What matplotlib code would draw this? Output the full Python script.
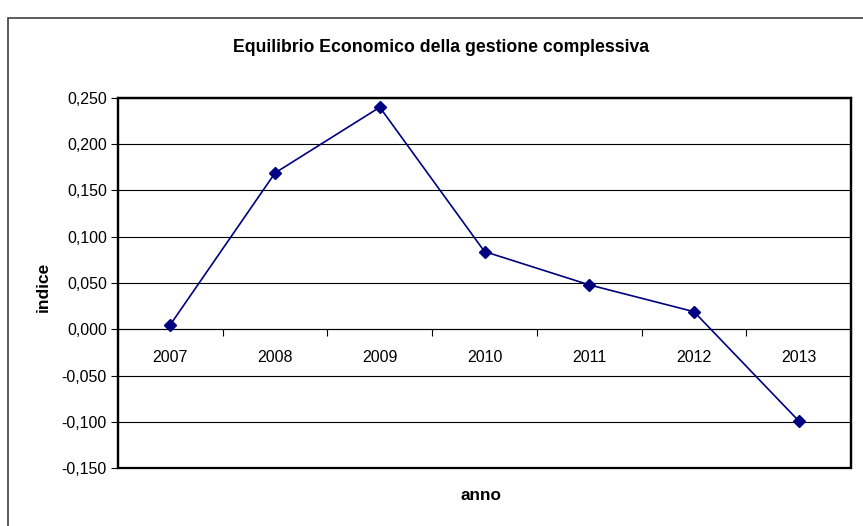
import matplotlib.pyplot as plt
from matplotlib.patches import Rectangle
from matplotlib.ticker import FuncFormatter, MultipleLocator
import numpy as np

plt.rcParams['font.family'] = ['Liberation Sans', 'DejaVu Sans']

anni = ['2007', '2008', '2009', '2010', '2011', '2012', '2013']
indice = [0.005, 0.169, 0.240, 0.084, 0.048, 0.019, -0.099]

W, H = 863, 526
fig = plt.figure(figsize=(W / 100, H / 100), dpi=100)

# outer chart border (cropped on the right/bottom)
fig.patches.append(Rectangle((8 / W, -0.05), 1.2, 1 - 18 / H + 0.05,
                             transform=fig.transFigure, fill=False,
                             edgecolor='#404040', linewidth=1.2))

ax = fig.add_axes([118 / W, 58 / H, 733 / W, 370 / H])
x = np.arange(len(anni))
ax.plot(x, indice, color='#000080', linewidth=1.2, marker='D',
        markersize=6, markerfacecolor='#000080', markeredgecolor='#000080',
        zorder=5, clip_on=False)

ax.set_xlim(-0.5, len(anni) - 0.5)
ax.set_ylim(-0.15, 0.25)

ax.yaxis.set_major_locator(MultipleLocator(0.05))
ax.yaxis.set_major_formatter(FuncFormatter(lambda v, p: f'{v:.3f}'.replace('.', ',').replace('-0,000', '0,000')))
ax.grid(axis='y', color='black', linewidth=0.8)
ax.set_axisbelow(True)
ax.tick_params(axis='y', direction='out', length=5, width=0.8, labelsize=11.5, pad=3)

# category axis crosses at zero
ax.spines['bottom'].set_position(('data', 0))
ax.spines['bottom'].set_linewidth(0.8)
ax.set_xticks(x)
ax.set_xticklabels(anni)
ax.set_xticks(np.arange(len(anni) + 1) - 0.5, minor=True)
ax.tick_params(axis='x', which='major', length=0, labelsize=11.5, pad=15)
ax.tick_params(axis='x', which='minor', direction='out', length=5, width=0.8)

for s in ['top', 'left', 'right']:
    ax.spines[s].set_linewidth(1.6)
ax.add_patch(Rectangle((0, 0), 1, 1, transform=ax.transAxes, fill=False,
                       edgecolor='black', linewidth=1.6, clip_on=False, zorder=6))

fig.text(441 / W, 1 - 47 / H, 'Equilibrio Economico della gestione complessiva',
         ha='center', va='center', fontsize=12.7, fontweight='bold')
fig.text(481 / W, 1 - 496 / H, 'anno', ha='center', va='center',
         fontsize=12.3, fontweight='bold')
fig.text(43 / W, 1 - 287 / H, 'indice', ha='center', va='center',
         rotation=90, fontsize=12.5, fontweight='bold')

fig.savefig('out.png', dpi=100)
